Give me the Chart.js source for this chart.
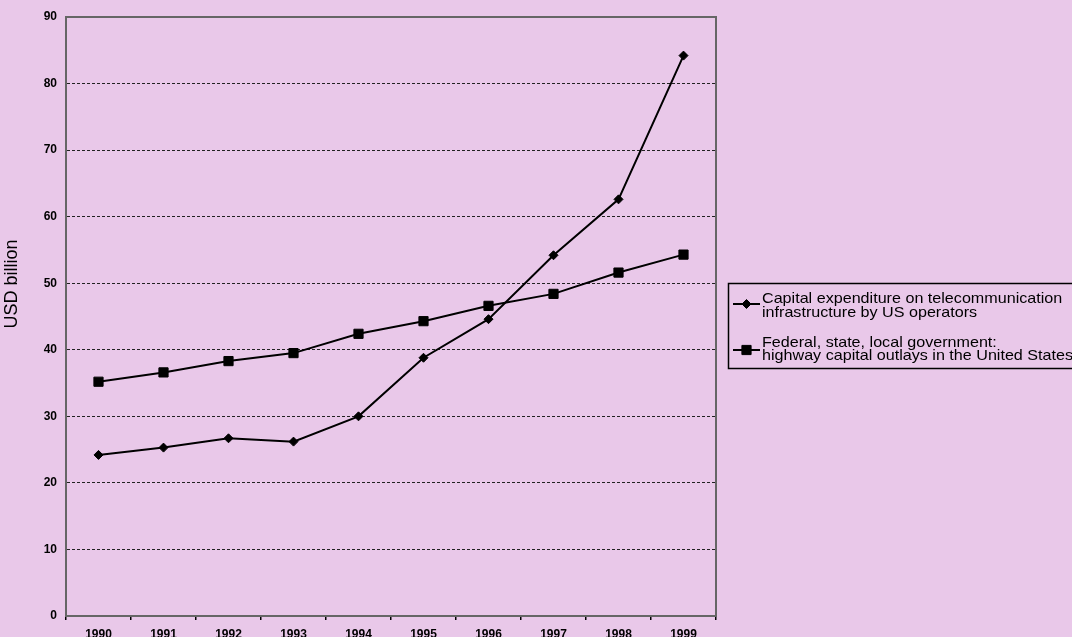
<!DOCTYPE html>
<html>
<head>
<meta charset="utf-8">
<script src="https://cdn.jsdelivr.net/npm/chart.js@4.4.0/dist/chart.umd.min.js"></script>
<style>
  html, body { margin: 0; padding: 0; background: #E9C8E9; }
  #wrap { width: 1072px; height: 637px; position: relative; }
</style>
</head>
<body>
<div id="wrap"><canvas id="c" width="1072" height="637"></canvas></div>
<script>
// ---- data ----
const years = ['1990', '1991', '1992', '1993', '1994', '1995', '1996', '1997', '1998', '1999'];
const telecomCapex = [24.2, 25.3, 26.7, 26.2, 30.0, 38.8, 44.6, 54.2, 62.6, 84.2];
const highwayOutlays = [35.2, 36.6, 38.3, 39.5, 42.4, 44.3, 46.6, 48.4, 51.6, 54.3];
const telecomLabel = ['Capital expenditure on telecommunication', 'infrastructure by US operators'];
const highwayLabel = ['Federal, state, local government:', 'highway capital outlays in the United States'];
const yAxisTitle = 'USD billion';
const yMin = 0, yMax = 90, yStep = 10;

const FONT = "'Liberation Sans', Arial, sans-serif";

const framePlugin = {
  id: 'frame',
  beforeDatasetsDraw(chart) {
    const { ctx, chartArea: a } = chart;
    ctx.save();
    ctx.strokeStyle = '#666';
    ctx.lineWidth = 2;
    ctx.strokeRect(Math.round(a.left), Math.round(a.top),
                   Math.round(a.right - a.left), Math.round(a.bottom - a.top));
    ctx.restore();
  },
  afterDraw(chart) {
    const { ctx } = chart;
    ctx.save();
    // y axis title
    ctx.fillStyle = '#000';
    ctx.font = "18px " + FONT;
    ctx.textAlign = 'center';
    ctx.textBaseline = 'middle';
    ctx.translate(12, 284);
    ctx.rotate(-Math.PI / 2);
    ctx.fillText(yAxisTitle, 0, 0);
    ctx.restore();

    // legend
    ctx.save();
    ctx.strokeStyle = '#000';
    ctx.lineWidth = 1.5;
    ctx.strokeRect(728.5, 283.5, 360, 85);
    const entries = [
      { lines: telecomLabel, symY: 304, ys: [303, 316.5], style: 'rectRot', r: 4.5 },
      { lines: highwayLabel, symY: 350, ys: [346.5, 360], style: 'rect', r: 6.5 }
    ];
    entries.forEach(e => {
      ctx.strokeStyle = '#000';
      ctx.lineWidth = 2;
      ctx.beginPath();
      ctx.moveTo(733, e.symY);
      ctx.lineTo(760, e.symY);
      ctx.stroke();
      ctx.fillStyle = '#000';
      ctx.lineWidth = 1;
      Chart.helpers.drawPoint(ctx, { pointStyle: e.style, radius: e.r, borderWidth: 1, rotation: 0 }, 746.5, e.symY);
      ctx.save();
      ctx.font = "15px " + FONT;
      ctx.textAlign = 'left';
      ctx.textBaseline = 'alphabetic';
      ctx.translate(762, 0);
      ctx.scale(1.075, 1);
      e.lines.forEach((t, i) => {
        ctx.fillText(t, 0, e.ys[i]);
      });
      ctx.restore();
    });
    ctx.restore();
  }
};

new Chart(document.getElementById('c'), {
  type: 'line',
  data: {
    labels: years,
    datasets: [
      {
        label: telecomLabel.join(' '),
        data: telecomCapex,
        borderColor: '#000',
        borderWidth: 2,
        pointStyle: 'rectRot',
        pointRadius: 4.5,
        pointBackgroundColor: '#000',
        pointBorderColor: '#000',
        pointBorderWidth: 1,
        tension: 0
      },
      {
        label: highwayLabel.join(' '),
        data: highwayOutlays,
        borderColor: '#000',
        borderWidth: 2,
        pointStyle: 'rect',
        pointRadius: 6.5,
        pointBackgroundColor: '#000',
        pointBorderColor: '#000',
        pointBorderWidth: 1,
        tension: 0
      }
    ]
  },
  options: {
    responsive: false,
    animation: false,
    devicePixelRatio: 1,
    layout: { padding: { top: 17, right: 356, left: 0, bottom: 0 } },
    plugins: { legend: { display: false }, tooltip: { enabled: false } },
    scales: {
      x: {
        type: 'category',
        offset: true,
        grid: { display: true, drawOnChartArea: false, drawTicks: true, tickLength: 4, color: '#000', lineWidth: 1.5, offset: true },
        border: { display: true, color: '#666', width: 2 },
        ticks: { color: '#000', font: { family: FONT, size: 12, weight: 'bold' }, padding: 7, maxRotation: 0, autoSkip: false },
        afterFit(s) { s.height = 21; }
      },
      y: {
        min: yMin, max: yMax,
        ticks: { stepSize: yStep, color: '#000', font: { family: FONT, size: 12, weight: 'bold' }, padding: 9 },
        grid: { color: '#222', lineWidth: 1, drawTicks: false },
        border: { display: true, color: '#666', width: 2, dash: [3, 2] },
        afterFit(s) { s.width = 66; }
      }
    }
  },
  plugins: [framePlugin]
});
</script>
</body>
</html>
